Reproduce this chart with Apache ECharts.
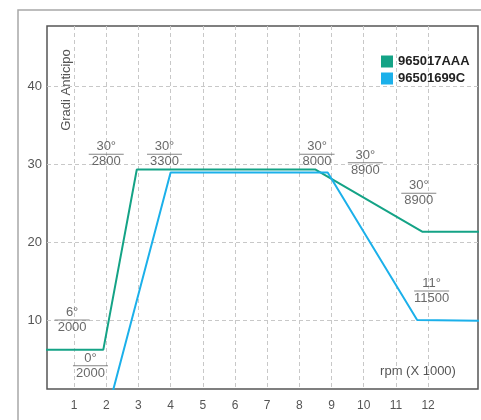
<!DOCTYPE html>
<html>
<head>
<meta charset="utf-8">
<script src="https://cdn.jsdelivr.net/npm/echarts@6/dist/echarts.min.js"></script>
<style>
html,body{margin:0;padding:0;background:#fff;}
#c{width:481px;height:420px;}
</style>
</head>
<body>
<div id="c"></div>
<script>
// x values in rpm x 1000, y values in degrees
var xTicks = [1, 2, 3, 4, 5, 6, 7, 8, 9, 10, 11, 12];
var yTicks = [10, 20, 30, 40];
var seriesNames = ['965017AAA', '96501699C'];
var greenX = [0, 1.91, 2.95, 8.49, 11.83, 14];
var greenY = [6.2, 6.2, 29.3, 29.3, 21.3, 21.3];
var blueX = [2.15, 4.0, 8.88, 11.66, 14];
var blueY = [0, 28.9, 28.9, 10.0, 9.9];
// annotation labels (degrees over rpm)
var annX = [0.94, 1.51, 2.0, 3.81, 8.55, 10.05, 11.71, 12.11];
var annY = [10.0, 4.14, 31.24, 31.24, 31.24, 30.17, 26.24, 13.72];
var annTop = ['6°', '0°', '30°', '30°', '30°', '30°', '30°', '11°'];
var annBottom = ['2000', '2000', '2800', '3300', '8000', '8900', '8900', '11500'];

function zip(a, b) { return a.map(function (v, i) { return [v, b[i]]; }); }
var annData = annX.map(function (v, i) { return [v, annY[i], annTop[i], annBottom[i]]; });

var FONT = '"Liberation Sans", Arial, Helvetica, sans-serif';
var GREEN = '#14a386';
var BLUE = '#1bb0ea';

var chart = echarts.init(document.getElementById('c'), null, {renderer: 'canvas'});
chart.setOption({
  animation: false,
  backgroundColor: '#fff',
  textStyle: {fontFamily: FONT},
  grid: {left: 47, right: 3, top: 26, bottom: 31, show: true, borderColor: '#555', borderWidth: 1.5, backgroundColor: 'transparent'},
  legend: {
    data: seriesNames,
    left: 376, top: 50, orient: 'vertical',
    icon: 'rect', itemWidth: 12, itemHeight: 12, itemGap: 4,
    textStyle: {fontFamily: FONT, fontSize: 13, fontWeight: 'bold', color: '#222'},
    selectedMode: false
  },
  xAxis: {
    type: 'value', min: 0.16, max: 13.55,
    axisLine: {show: false},
    axisTick: {show: false, customValues: xTicks},
    axisLabel: {customValues: xTicks, color: '#555', fontSize: 12, margin: 11, fontFamily: FONT},
    splitLine: {show: true, lineStyle: {color: '#c8c8c8', type: [4, 3], width: 1}}
  },
  yAxis: {
    type: 'value', min: 1.154, max: 47.69,
    axisLine: {show: false},
    axisTick: {show: false, customValues: yTicks},
    axisLabel: {customValues: yTicks, color: '#555', fontSize: 13, margin: 5, fontFamily: FONT},
    splitLine: {show: true, lineStyle: {color: '#c8c8c8', type: [4, 3], width: 1}}
  },
  graphic: [
    {type: 'polyline', silent: true, shape: {points: [[18, 430], [18, 10], [490, 10]]}, style: {stroke: '#a8a8a8', lineWidth: 1.5, fill: null}},
    {type: 'text', silent: true, x: 66.5, y: 90, rotation: Math.PI / 2,
      style: {text: 'Gradi Anticipo', font: '13px ' + FONT, fill: '#555', align: 'center', verticalAlign: 'middle'}},
    {type: 'text', silent: true, x: 418, y: 371,
      style: {text: 'rpm (X 1000)', font: '13px ' + FONT, fill: '#555', align: 'center', verticalAlign: 'middle'}}
  ],
  series: [
    {name: seriesNames[0], type: 'line', data: zip(greenX, greenY), symbol: 'none', clip: true,
      lineStyle: {color: GREEN, width: 2}, itemStyle: {color: GREEN}, silent: true, z: 3},
    {name: seriesNames[1], type: 'line', data: zip(blueX, blueY), symbol: 'none', clip: true,
      lineStyle: {color: BLUE, width: 2}, itemStyle: {color: BLUE}, silent: true, z: 3},
    {name: 'ann', type: 'scatter', data: annData, symbol: 'rect', symbolSize: [35, 1], silent: true, z: 4,
      itemStyle: {color: '#666'},
      label: {
        show: true, position: 'inside',
        formatter: function (p) { return '{t|' + p.value[2] + '}\n{b|' + p.value[3] + '}'; },
        rich: {
          t: {fontSize: 13, lineHeight: 15, color: '#444', fontFamily: FONT, align: 'center'},
          b: {fontSize: 13, lineHeight: 15, color: '#444', fontFamily: FONT, align: 'center'}
        }
      }
    }
  ]
});
</script>
</body>
</html>
